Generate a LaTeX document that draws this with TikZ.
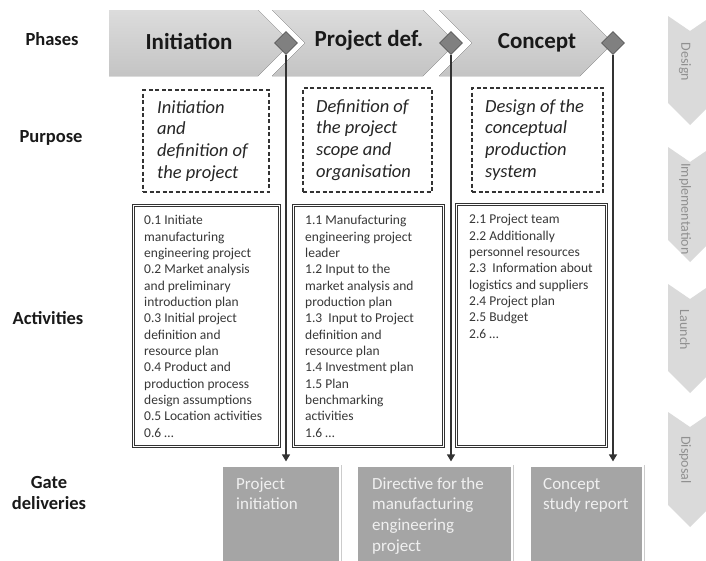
\documentclass[tikz,border=0pt]{standalone}
\usepackage{fontspec}
\setmainfont{Carlito}
\usetikzlibrary{shapes.geometric,arrows.meta}
\definecolor{chevtop}{HTML}{DCDCDC}
\definecolor{chevbot}{HTML}{C4C4C4}
\definecolor{gatefill}{HTML}{A5A5A5}
\definecolor{sidechev}{HTML}{DADADA}
\definecolor{sidetext}{HTML}{909090}
\definecolor{diafill}{HTML}{808080}
\begin{document}
\begin{tikzpicture}[x=1pt,y=-1pt,
  phasechev/.style={top color=chevtop,bottom color=chevbot,draw=none},
  phasetitle/.style={font=\fontsize{23}{27}\selectfont\bfseries,text=black!90,inner sep=0,anchor=base},
  rowlabel/.style={font=\fontsize{18.5}{21}\selectfont\bfseries,align=center,inner sep=0,anchor=north,text=black!90},
  gatediamond/.style={diamond,minimum size=23pt,inner sep=0,fill=diafill,draw=black!65,line width=0.6pt},
  purposebox/.style={draw=black!80,line width=1.2pt,dash pattern=on 4pt off 2.5pt,inner sep=0},
  purposetext/.style={font=\fontsize{18.5}{21.7}\selectfont\itshape,align=left,inner sep=0,anchor=north west,text=black!85},
  actbox/.style={draw=black!80,double=white,double distance=1.3pt,line width=0.8pt,inner sep=0},
  acttext/.style={font=\fontsize{13.5}{16.33}\selectfont,align=left,inner sep=0,anchor=north west,text=black!78},
  gatebox/.style={fill=gatefill,draw=white,line width=1.2pt,preaction={draw=black!20,line width=3pt},inner sep=0},
  gatetext/.style={font=\fontsize{17}{20.7}\selectfont,align=left,inner sep=0,anchor=north west,text=white!94!black},
  sidechevshape/.style={fill=sidechev,draw=none},
  sidechevtext/.style={font=\fontsize{14}{16}\selectfont,text=sidetext,rotate=-90,inner sep=0},
  gateline/.style={draw=black!80,line width=1.4pt,-{Triangle[length=7pt,width=8pt]},shorten >=4pt},
]
\useasboundingbox (0,0) rectangle (706,560);
\clip (0,0) rectangle (706,560);
\fill[white] (0,0) rectangle (706,560);

% phase chevrons
\fill[phasechev] (109,10) -- (258,10) -- (291,43) -- (258,76) -- (109,76) -- cycle;
\fill[phasechev] (272,10) -- (423,10) -- (456,43) -- (423,76) -- (272,76) -- (305,43) -- cycle;
\fill[phasechev] (439,10) -- (580,10) -- (613,43) -- (580,76) -- (439,76) -- (472,43) -- cycle;
\node[phasetitle] (p1) at (189,49.5) {Initiation};
\node[phasetitle] (p2) at (369,46.5) {Project def.};
\node[phasetitle] (p3) at (537,48.3) {Concept};

% side chevrons
\fill[sidechevshape] (668,16) -- (690,31) -- (712,16) -- (712,103) -- (690,125) -- (668,103) -- cycle;
\fill[sidechevshape] (668,147) -- (690,162) -- (712,147) -- (712,240) -- (690,262) -- (668,240) -- cycle;
\fill[sidechevshape] (668,284) -- (690,299) -- (712,284) -- (712,371) -- (690,393) -- (668,371) -- cycle;
\fill[sidechevshape] (668,412) -- (690,427) -- (712,412) -- (712,505) -- (690,527) -- (668,505) -- cycle;
\node[sidechevtext] (s1) at (685,62) {Design};
\node[sidechevtext] (s2) at (685,209) {Implementation};
\node[sidechevtext] (s3) at (685,330) {Launch};
\node[sidechevtext] (s4) at (685,460) {Disposal};

% row labels
\node[rowlabel] (l1) at (52,30.3) {\strut Phases};
\node[rowlabel] (l2) at (51,128) {\strut Purpose};
\node[rowlabel] (l3) at (48,309.3) {\strut Activities};
\node[rowlabel] (l4) at (49,473.3) {\strut Gate\\deliveries};

% purpose boxes
\node[purposebox,minimum width=126pt,minimum height=102pt] (u1) at (206,141) {};
\node[purposebox,minimum width=129pt,minimum height=104pt] (u2) at (367.5,140) {};
\node[purposebox,minimum width=131pt,minimum height=104pt] (u3) at (537.5,140) {};
\node[purposetext] (u1t) at (157,97.8) {\strut Initiation\\and\\definition of\\the project};
\node[purposetext] (u2t) at (316,96.8) {\strut Definition of\\the project\\scope and\\organisation};
\node[purposetext] (u3t) at (485,96.8) {\strut Design of the\\conceptual\\production\\system};

% activity boxes
\node[actbox,minimum width=146pt,minimum height=241pt] (a1) at (206.5,326) {};
\node[actbox,minimum width=150pt,minimum height=241pt] (a2) at (368.5,326) {};
\node[actbox,minimum width=150pt,minimum height=242pt] (a3) at (531.5,325.5) {};
\node[acttext] (a1t) at (144,213.1) {\strut 0.1 Initiate\\manufacturing\\engineering project\\0.2 Market analysis\\and preliminary\\introduction plan\\0.3 Initial project\\definition and\\resource plan\\0.4 Product and\\production process\\design assumptions\\0.5 Location activities\\0.6 \dots};
\node[acttext] (a2t) at (305,213.1) {\strut 1.1 Manufacturing\\engineering project\\leader\\1.2 Input to the\\market analysis and\\production plan\\1.3\ \ Input to Project\\definition and\\resource plan\\1.4 Investment plan\\1.5 Plan\\benchmarking\\activities\\1.6 \dots};
\node[acttext] (a3t) at (469,212.1) {\strut 2.1 Project team\\2.2 Additionally\\personnel resources\\2.3\ \ Information about\\logistics and suppliers\\2.4 Project plan\\2.5 Budget\\2.6 \dots};

% gate delivery boxes
\node[gatebox,minimum width=118pt,minimum height=124pt] (g1) at (281,528) {};
\node[gatebox,minimum width=155pt,minimum height=124pt] (g2) at (434.5,528) {};
\node[gatebox,minimum width=113pt,minimum height=124pt] (g3) at (586.5,528) {};
\node[gatetext] (g1t) at (236,474.5) {\strut Project\\initiation};
\node[gatetext] (g2t) at (372,474.5) {\strut Directive for the\\manufacturing\\engineering\\project};
\node[gatetext] (g3t) at (543,474.5) {\strut Concept\\study report};

% gates: diamonds and connectors
\node[gatediamond] (d1) at (286,43) {};
\node[gatediamond] (d2) at (451,43) {};
\node[gatediamond] (d3) at (613,43) {};
\draw[gateline] (d1.south) -- (d1.south |- g1.north);
\draw[gateline] (d2.south) -- (d2.south |- g2.north);
\draw[gateline] (d3.south) -- (d3.south |- g3.north);
\end{tikzpicture}
\end{document}
